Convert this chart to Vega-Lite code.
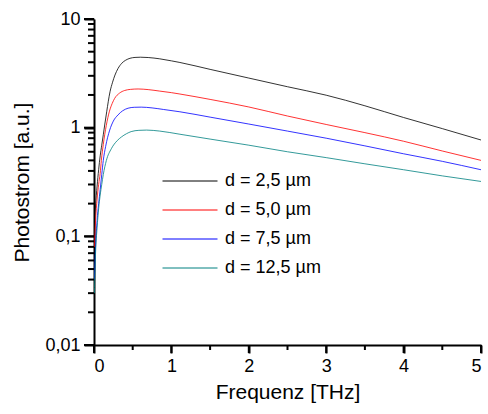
{
  "$schema": "https://vega.github.io/schema/vega-lite/v6.json",
  "width": 387,
  "height": 326,
  "autosize": "none",
  "padding": {"left": 94, "top": 19, "right": 7, "bottom": 69},
  "background": "white",
  "config": {
    "view": {"stroke": null},
    "font": "Liberation Sans",
    "axis": {
      "domainColor": "black", "domainWidth": 2, "ticks": true, "tickColor": "black", "tickOpacity": 1, "tickWidth": 2,
      "labelColor": "black", "titleColor": "black", "labelFontSize": 18, "titleFontSize": 21,
      "titleFontWeight": "normal", "grid": false, "labelOverlap": false
    }
  },
  "layer": [
    {
      "data": {"values": [{"f":0.5,"p":0.01},{"f":1.5,"p":0.01},{"f":2.5,"p":0.01},{"f":3.5,"p":0.01},{"f":4.5,"p":0.01}]},
      "mark": {"type": "tick", "orient": "vertical", "size": 5, "thickness": 2, "color": "black", "opacity": 1, "yOffset": 2.5},
      "encoding": {
        "x": {"field": "f", "type": "quantitative", "scale": {"domain": [0, 5], "nice": false, "zero": false}, "axis": null},
        "y": {"field": "p", "type": "quantitative", "scale": {"type": "log", "domain": [0.01, 10], "nice": false}, "axis": null}
      }
    },
    {
      "data": {"values": [{"f":0,"p":0.01},{"f":1,"p":0.01},{"f":2,"p":0.01},{"f":3,"p":0.01},{"f":4,"p":0.01},{"f":5,"p":0.01}]},
      "mark": {"type": "tick", "orient": "vertical", "size": 8, "thickness": 2, "color": "black", "opacity": 1, "yOffset": 4},
      "encoding": {
        "x": {"field": "f", "type": "quantitative", "axis": null},
        "y": {"field": "p", "type": "quantitative", "axis": null}
      }
    },
    {
      "data": {"values": [{"f":0,"p":0.02},{"f":0,"p":0.03},{"f":0,"p":0.04},{"f":0,"p":0.05},{"f":0,"p":0.06},{"f":0,"p":0.07},{"f":0,"p":0.08},{"f":0,"p":0.09},{"f":0,"p":0.2},{"f":0,"p":0.3},{"f":0,"p":0.4},{"f":0,"p":0.5},{"f":0,"p":0.6},{"f":0,"p":0.7},{"f":0,"p":0.8},{"f":0,"p":0.9},{"f":0,"p":2},{"f":0,"p":3},{"f":0,"p":4},{"f":0,"p":5},{"f":0,"p":6},{"f":0,"p":7},{"f":0,"p":8},{"f":0,"p":9}]},
      "mark": {"type": "tick", "orient": "horizontal", "size": 6, "thickness": 2, "color": "black", "opacity": 1, "xOffset": -3},
      "encoding": {
        "x": {"field": "f", "type": "quantitative", "axis": null},
        "y": {"field": "p", "type": "quantitative", "axis": null}
      }
    },
    {
      "data": {"values": [{"f":0,"p":0.01},{"f":0,"p":0.1},{"f":0,"p":1},{"f":0,"p":10}]},
      "mark": {"type": "tick", "orient": "horizontal", "size": 10, "thickness": 2, "color": "black", "opacity": 1, "xOffset": -5},
      "encoding": {
        "x": {"field": "f", "type": "quantitative", "axis": null},
        "y": {"field": "p", "type": "quantitative", "axis": null}
      }
    },
    {
      "data": {"values": [
        {"d":"d = 2,5 µm","f":0.005,"p":0.12},{"d":"d = 2,5 µm","f":0.02,"p":0.19},{"d":"d = 2,5 µm","f":0.04,"p":0.29},{"d":"d = 2,5 µm","f":0.06,"p":0.41},{"d":"d = 2,5 µm","f":0.08,"p":0.55},{"d":"d = 2,5 µm","f":0.1,"p":0.69},{"d":"d = 2,5 µm","f":0.12,"p":0.86},{"d":"d = 2,5 µm","f":0.14,"p":1.08},{"d":"d = 2,5 µm","f":0.164,"p":1.4},{"d":"d = 2,5 µm","f":0.185,"p":1.75},{"d":"d = 2,5 µm","f":0.207,"p":2.14},{"d":"d = 2,5 µm","f":0.24,"p":2.62},{"d":"d = 2,5 µm","f":0.271,"p":3.05},{"d":"d = 2,5 µm","f":0.31,"p":3.5},{"d":"d = 2,5 µm","f":0.358,"p":3.91},{"d":"d = 2,5 µm","f":0.41,"p":4.18},{"d":"d = 2,5 µm","f":0.465,"p":4.35},{"d":"d = 2,5 µm","f":0.53,"p":4.43},{"d":"d = 2,5 µm","f":0.6,"p":4.45},{"d":"d = 2,5 µm","f":0.7,"p":4.42},{"d":"d = 2,5 µm","f":0.85,"p":4.3},{"d":"d = 2,5 µm","f":1.0,"p":4.12},{"d":"d = 2,5 µm","f":1.11,"p":3.98},{"d":"d = 2,5 µm","f":1.5,"p":3.44},{"d":"d = 2,5 µm","f":2.0,"p":2.86},{"d":"d = 2,5 µm","f":2.5,"p":2.38},{"d":"d = 2,5 µm","f":3.0,"p":1.99},{"d":"d = 2,5 µm","f":3.5,"p":1.59},{"d":"d = 2,5 µm","f":4.0,"p":1.24},{"d":"d = 2,5 µm","f":4.5,"p":0.98},{"d":"d = 2,5 µm","f":5.0,"p":0.77},
        {"d":"d = 5,0 µm","f":0.005,"p":0.08},{"d":"d = 5,0 µm","f":0.02,"p":0.14},{"d":"d = 5,0 µm","f":0.04,"p":0.22},{"d":"d = 5,0 µm","f":0.06,"p":0.3},{"d":"d = 5,0 µm","f":0.08,"p":0.38},{"d":"d = 5,0 µm","f":0.095,"p":0.5},{"d":"d = 5,0 µm","f":0.12,"p":0.7},{"d":"d = 5,0 µm","f":0.159,"p":1.05},{"d":"d = 5,0 µm","f":0.2,"p":1.42},{"d":"d = 5,0 µm","f":0.235,"p":1.67},{"d":"d = 5,0 µm","f":0.267,"p":1.86},{"d":"d = 5,0 µm","f":0.33,"p":2.08},{"d":"d = 5,0 µm","f":0.397,"p":2.2},{"d":"d = 5,0 µm","f":0.47,"p":2.25},{"d":"d = 5,0 µm","f":0.57,"p":2.27},{"d":"d = 5,0 µm","f":0.7,"p":2.24},{"d":"d = 5,0 µm","f":0.85,"p":2.17},{"d":"d = 5,0 µm","f":1.0,"p":2.1},{"d":"d = 5,0 µm","f":1.11,"p":2.04},{"d":"d = 5,0 µm","f":1.5,"p":1.82},{"d":"d = 5,0 µm","f":2.0,"p":1.55},{"d":"d = 5,0 µm","f":2.5,"p":1.28},{"d":"d = 5,0 µm","f":3.0,"p":1.07},{"d":"d = 5,0 µm","f":3.5,"p":0.9},{"d":"d = 5,0 µm","f":4.0,"p":0.75},{"d":"d = 5,0 µm","f":4.5,"p":0.61},{"d":"d = 5,0 µm","f":5.0,"p":0.5},
        {"d":"d = 7,5 µm","f":0.005,"p":0.04},{"d":"d = 7,5 µm","f":0.02,"p":0.08},{"d":"d = 7,5 µm","f":0.04,"p":0.14},{"d":"d = 7,5 µm","f":0.06,"p":0.2},{"d":"d = 7,5 µm","f":0.08,"p":0.27},{"d":"d = 7,5 µm","f":0.1,"p":0.37},{"d":"d = 7,5 µm","f":0.12,"p":0.5},{"d":"d = 7,5 µm","f":0.15,"p":0.67},{"d":"d = 7,5 µm","f":0.203,"p":0.95},{"d":"d = 7,5 µm","f":0.25,"p":1.15},{"d":"d = 7,5 µm","f":0.31,"p":1.31},{"d":"d = 7,5 µm","f":0.37,"p":1.43},{"d":"d = 7,5 µm","f":0.44,"p":1.51},{"d":"d = 7,5 µm","f":0.52,"p":1.54},{"d":"d = 7,5 µm","f":0.61,"p":1.545},{"d":"d = 7,5 µm","f":0.75,"p":1.52},{"d":"d = 7,5 µm","f":0.9,"p":1.47},{"d":"d = 7,5 µm","f":1.11,"p":1.4},{"d":"d = 7,5 µm","f":1.5,"p":1.25},{"d":"d = 7,5 µm","f":2.0,"p":1.08},{"d":"d = 7,5 µm","f":2.5,"p":0.93},{"d":"d = 7,5 µm","f":3.0,"p":0.8},{"d":"d = 7,5 µm","f":3.5,"p":0.68},{"d":"d = 7,5 µm","f":4.0,"p":0.575},{"d":"d = 7,5 µm","f":4.5,"p":0.49},{"d":"d = 7,5 µm","f":5.0,"p":0.41},
        {"d":"d = 12,5 µm","f":0.005,"p":0.03},{"d":"d = 12,5 µm","f":0.02,"p":0.07},{"d":"d = 12,5 µm","f":0.04,"p":0.12},{"d":"d = 12,5 µm","f":0.06,"p":0.18},{"d":"d = 12,5 µm","f":0.08,"p":0.24},{"d":"d = 12,5 µm","f":0.1,"p":0.3},{"d":"d = 12,5 µm","f":0.12,"p":0.37},{"d":"d = 12,5 µm","f":0.16,"p":0.5},{"d":"d = 12,5 µm","f":0.224,"p":0.64},{"d":"d = 12,5 µm","f":0.3,"p":0.76},{"d":"d = 12,5 µm","f":0.353,"p":0.82},{"d":"d = 12,5 µm","f":0.42,"p":0.88},{"d":"d = 12,5 µm","f":0.48,"p":0.92},{"d":"d = 12,5 µm","f":0.58,"p":0.945},{"d":"d = 12,5 µm","f":0.68,"p":0.95},{"d":"d = 12,5 µm","f":0.85,"p":0.93},{"d":"d = 12,5 µm","f":1.11,"p":0.87},{"d":"d = 12,5 µm","f":1.5,"p":0.785},{"d":"d = 12,5 µm","f":2.0,"p":0.69},{"d":"d = 12,5 µm","f":2.5,"p":0.6},{"d":"d = 12,5 µm","f":3.0,"p":0.53},{"d":"d = 12,5 µm","f":3.5,"p":0.465},{"d":"d = 12,5 µm","f":4.0,"p":0.41},{"d":"d = 12,5 µm","f":4.5,"p":0.36},{"d":"d = 12,5 µm","f":5.0,"p":0.32}
      ]},
      "mark": {"type": "line", "strokeWidth": 0.8, "clip": true, "interpolate": "monotone"},
      "encoding": {
        "x": {"field": "f", "type": "quantitative",
              "axis": {"orient": "bottom", "values": [0, 1, 2, 3, 4, 5], "ticks": true, "tickSize": 8, "labelPadding": 4, "title": "Frequenz [THz]", "titlePadding": 6}},
        "y": {"field": "p", "type": "quantitative",
              "axis": {"orient": "left", "values": [0.01, 0.1, 1, 10], "ticks": true, "tickSize": 10, "labelPadding": 4,
                       "labelExpr": "replace(format(datum.value, '~g'), '.', ',')",
                       "title": "Photostrom [a.u.]", "titlePadding": 12}},
        "color": {"field": "d", "type": "nominal",
                  "scale": {"domain": ["d = 2,5 µm", "d = 5,0 µm", "d = 7,5 µm", "d = 12,5 µm"],
                            "range": ["#000000", "#ff0000", "#0000ff", "#008080"]},
                  "legend": {"orient": "none", "legendX": 68, "legendY": 152, "title": null,
                             "symbolType": "stroke", "symbolSize": 3025, "symbolStrokeWidth": 1, "clipHeight": 20,
                             "labelFontSize": 18, "labelOffset": 7, "rowPadding": 9, "labelColor": "black"}}
      }
    }
  ],
  "resolve": {"axis": {"x": "independent", "y": "independent"}}
}
